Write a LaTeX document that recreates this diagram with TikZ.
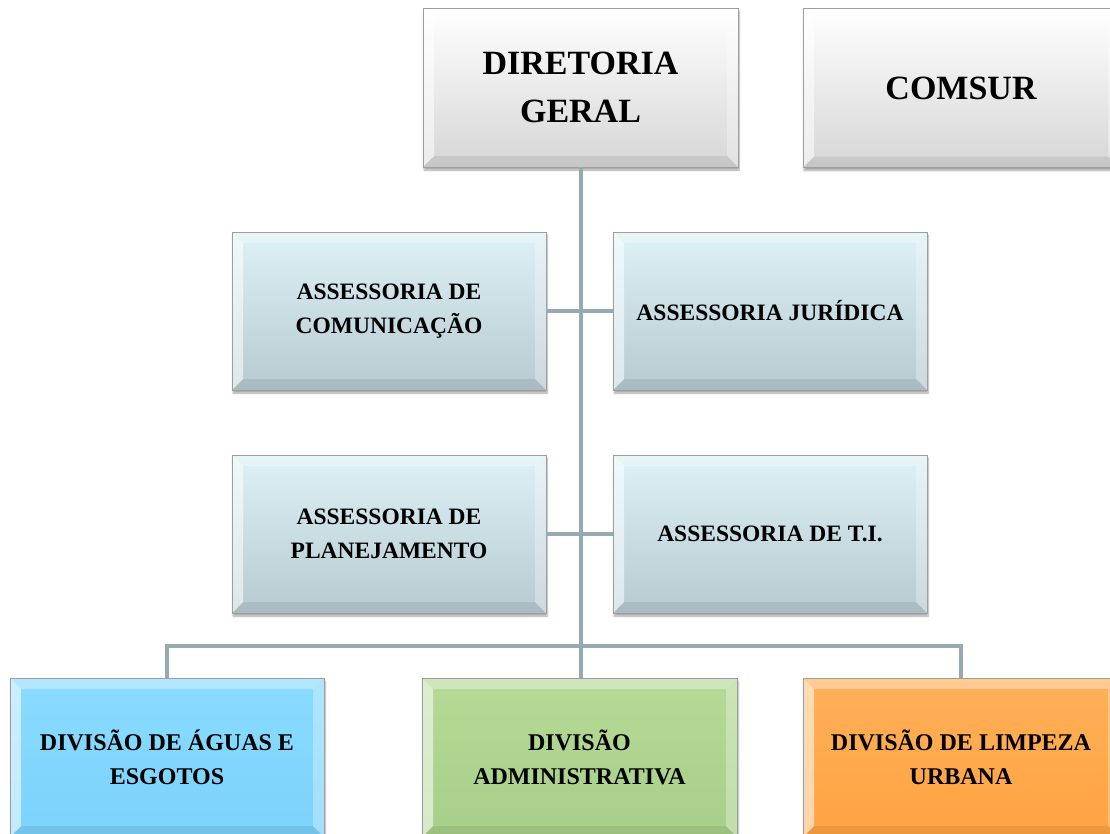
\documentclass[tikz,border=0pt]{standalone}
\usepackage{fontspec}
\setmainfont{Liberation Serif}
\usetikzlibrary{shadows.blur}

\definecolor{linkcol}{HTML}{96ABB1}
\definecolor{whitetop}{HTML}{FFFFFF}
\definecolor{whitebot}{HTML}{D6D6D6}
\definecolor{asstop}{HTML}{DDF1F6}
\definecolor{assbot}{HTML}{B6CACF}
\definecolor{blutop}{HTML}{8ADBFF}
\definecolor{blubot}{HTML}{7BD2FB}
\definecolor{grntop}{HTML}{B5DA97}
\definecolor{grnbot}{HTML}{A7CF88}
\definecolor{orgtop}{HTML}{FFB059}
\definecolor{orgbot}{HTML}{FFA341}

\tikzset{
  bevel/.style={path picture={
    \coordinate (pnw) at (path picture bounding box.north west);
    \coordinate (pne) at (path picture bounding box.north east);
    \coordinate (psw) at (path picture bounding box.south west);
    \coordinate (pse) at (path picture bounding box.south east);
    % top face of the bevel
    \fill[white,opacity=.35] (pnw) -- (pne) -- ([shift={(-11pt,-11pt)}]pne)
      -- ([shift={(11pt,-11pt)}]pnw) -- cycle;
    % left face
    \fill[white,opacity=.55] (pnw) -- ([shift={(11pt,-11pt)}]pnw)
      -- ([shift={(11pt,11pt)}]psw) -- (psw) -- cycle;
    % right face
    \fill[white,opacity=.30] (pne) -- (pse) -- ([shift={(-11pt,11pt)}]pse)
      -- ([shift={(-11pt,-11pt)}]pne) -- cycle;
    % bottom face
    \fill[black,opacity=.07] (psw) -- (pse) -- ([shift={(-11pt,11pt)}]pse)
      -- ([shift={(11pt,11pt)}]psw) -- cycle;
  }},
  orgbox/.style={rectangle, draw=black!38, line width=0.8pt, bevel,
    blur shadow={shadow xshift=1pt, shadow yshift=-3pt, shadow blur steps=6,
      shadow opacity=35},
    align=center, text=black, inner sep=0pt},
  bigbox/.style={orgbox, minimum width=315pt, minimum height=159pt,
    font=\fontsize{34}{48}\selectfont\bfseries},
  midbox/.style={orgbox, minimum width=314pt, minimum height=158pt,
    top color=asstop, bottom color=assbot,
    font=\fontsize{23.5}{34}\selectfont\bfseries},
  lowbox/.style={orgbox, minimum width=315pt, minimum height=159pt,
    font=\fontsize{24}{34}\selectfont\bfseries},
  link/.style={draw=linkcol, line width=4pt}
}

\begin{document}
\begin{tikzpicture}[x=1pt, y=-1pt]
  \useasboundingbox (0,0) rectangle (1110,833);

  % junction of the division bus
  \coordinate (bus) at (580,646);

  % top level
  \node[bigbox, top color=whitetop, bottom color=whitebot] (dg) at (580.5,87.5) {DIRETORIA\\GERAL};
  \node[bigbox, minimum width=316pt, top color=whitetop, bottom color=whitebot] (comsur) at (961,88) {COMSUR};

  % advisory units
  \node[midbox] (com) at (389,311) {ASSESSORIA DE\\COMUNICAÇÃO};
  \node[midbox] (jur) at (770,311) {ASSESSORIA JURÍDICA};
  \node[midbox] (pla) at (389,534) {ASSESSORIA DE\\PLANEJAMENTO};
  \node[midbox] (ti)  at (770,534) {ASSESSORIA DE T.I.};

  % divisions
  \node[lowbox, minimum width=314pt, top color=blutop, bottom color=blubot] (agu) at (167,757.5) {DIVISÃO DE ÁGUAS E\\ESGOTOS};
  \node[lowbox, top color=grntop, bottom color=grnbot] (adm) at (579.5,757.5) {DIVISÃO\\ADMINISTRATIVA};
  \node[lowbox, minimum width=316pt, top color=orgtop, bottom color=orgbot] (lim) at (961,757.5) {DIVISÃO DE LIMPEZA\\URBANA};

  % connectors
  \draw[link] (dg.south) -- (dg.south |- adm.north);
  \draw[link] (com.east) -- (jur.west);
  \draw[link] (pla.east) -- (ti.west);
  \draw[link] (agu.north) |- (bus) -| (lim.north);
\end{tikzpicture}
\end{document}
